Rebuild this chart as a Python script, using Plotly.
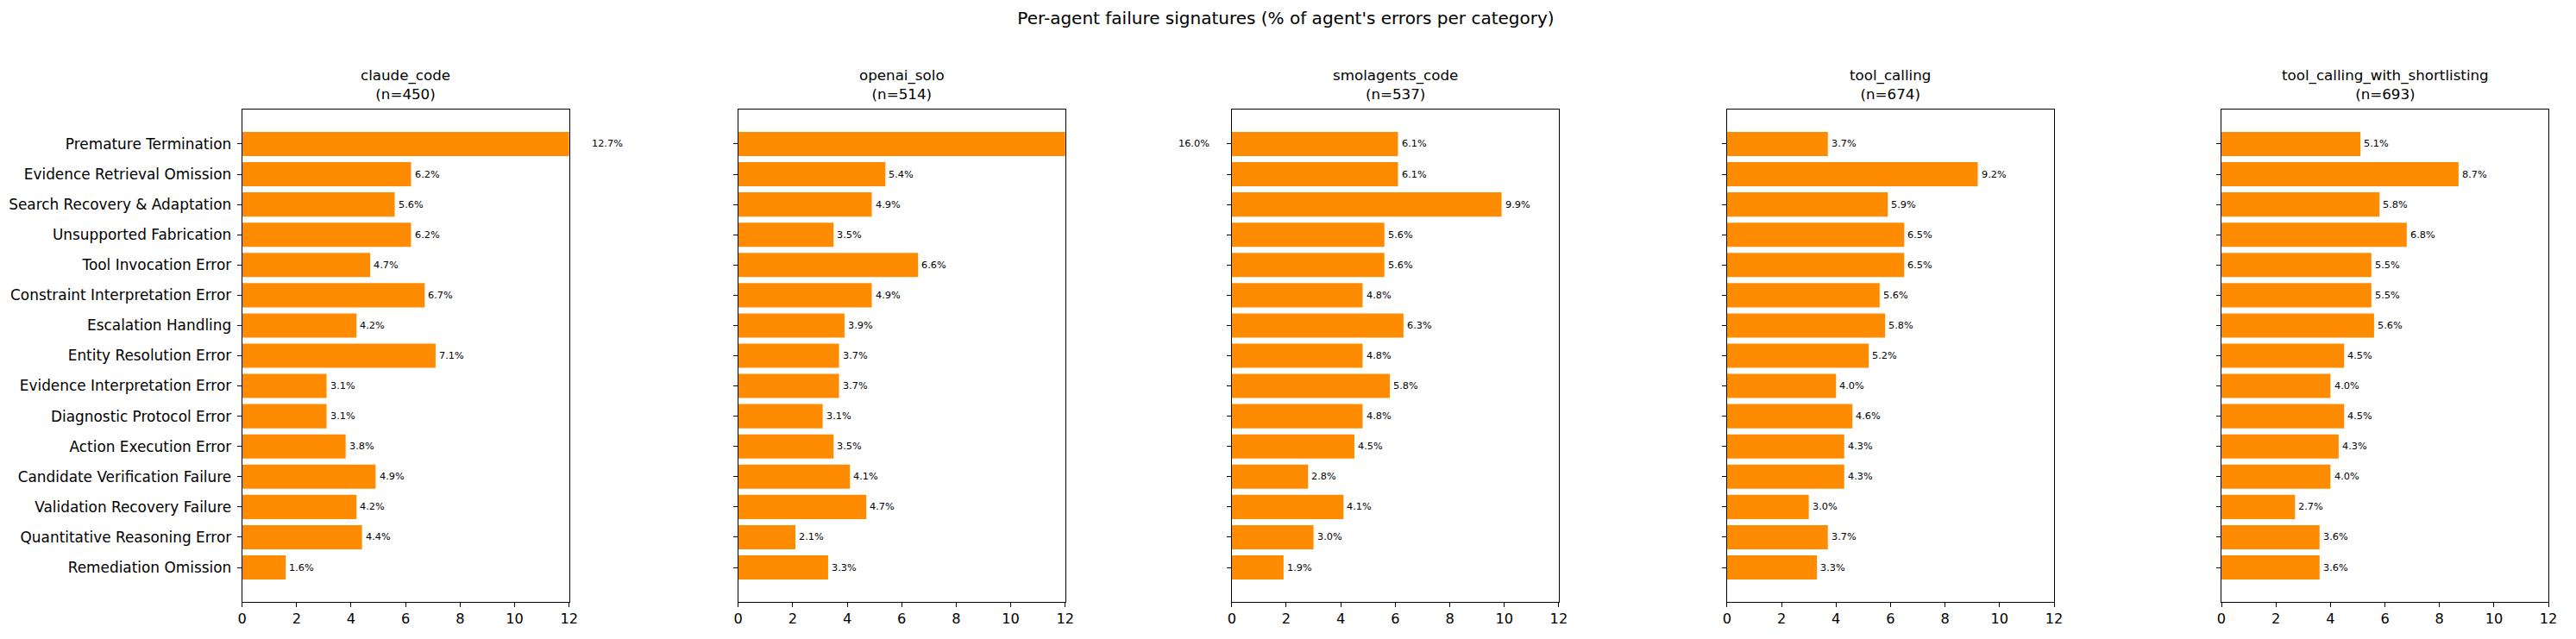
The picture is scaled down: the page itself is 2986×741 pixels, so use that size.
import plotly.graph_objects as go

# ---------------- data ----------------
categories = [
    "Premature Termination",
    "Evidence Retrieval Omission",
    "Search Recovery & Adaptation",
    "Unsupported Fabrication",
    "Tool Invocation Error",
    "Constraint Interpretation Error",
    "Escalation Handling",
    "Entity Resolution Error",
    "Evidence Interpretation Error",
    "Diagnostic Protocol Error",
    "Action Execution Error",
    "Candidate Verification Failure",
    "Validation Recovery Failure",
    "Quantitative Reasoning Error",
    "Remediation Omission",
]

agents = ["claude_code", "openai_solo", "smolagents_code", "tool_calling",
          "tool_calling_with_shortlisting"]
agent_counts = [450, 514, 537, 674, 693]

claude_code = [12.7, 6.2, 5.6, 6.2, 4.7, 6.7, 4.2, 7.1, 3.1, 3.1, 3.8, 4.9, 4.2, 4.4, 1.6]
openai_solo = [16.0, 5.4, 4.9, 3.5, 6.6, 4.9, 3.9, 3.7, 3.7, 3.1, 3.5, 4.1, 4.7, 2.1, 3.3]
smolagents_code = [6.1, 6.1, 9.9, 5.6, 5.6, 4.8, 6.3, 4.8, 5.8, 4.8, 4.5, 2.8, 4.1, 3.0, 1.9]
tool_calling = [3.7, 9.2, 5.9, 6.5, 6.5, 5.6, 5.8, 5.2, 4.0, 4.6, 4.3, 4.3, 3.0, 3.7, 3.3]
tool_calling_with_shortlisting = [5.1, 8.7, 5.8, 6.8, 5.5, 5.5, 5.6, 4.5, 4.0, 4.5, 4.3, 4.0, 2.7, 3.6, 3.6]

x_tick_values = [0, 2, 4, 6, 8, 10, 12]
x_max = 12

suptitle = "Per-agent failure signatures (% of agent's errors per category)"

# ---------------- layout geometry ----------------
W, H = 2986, 741
ax_left_px = [277, 855, 1430, 2007, 2583]
ax_w_px = 381
ax_top_px = 127
ax_bot_px = 698
y_dom = [1 - ax_bot_px / H, 1 - ax_top_px / H]
px_per_unit = ax_w_px / x_max

BAR_COLOR = "#FF8C00"
FONT = "DejaVu Sans"

series = [claude_code, openai_solo, smolagents_code, tool_calling,
          tool_calling_with_shortlisting]

fig = go.Figure()
layout_axes = {}
annotations = []

for i, (agent, n, vals) in enumerate(zip(agents, agent_counts, series)):
    k = i + 1
    xa = "x" if k == 1 else f"x{k}"
    ya = "y" if k == 1 else f"y{k}"
    fig.add_trace(go.Bar(
        x=vals, y=categories, orientation="h", width=0.8,
        marker=dict(color=BAR_COLOR, line=dict(width=0)),
        xaxis=xa, yaxis=ya, showlegend=False, hoverinfo="skip",
    ))
    # value labels; ones beyond the axis range are anchored at the axis edge
    # and shifted outward so they are still drawn (like matplotlib)
    for cat, v in zip(categories, vals):
        lx = v + 0.1
        ax_x = min(lx, x_max)
        annotations.append(dict(
            text=f"{v:.1f}%", x=ax_x, y=cat, xref=xa, yref=ya,
            xshift=(lx - ax_x) * px_per_unit,
            xanchor="left", yanchor="middle", showarrow=False,
            borderpad=0,
            font=dict(size=11.3, color="black", family=FONT),
        ))
    x0 = ax_left_px[i] / W
    x1 = (ax_left_px[i] + ax_w_px) / W
    layout_axes[f"xaxis{k}"] = dict(
        domain=[x0, x1], range=[0, x_max], tickvals=x_tick_values,
        ticks="outside", ticklen=5, tickwidth=1, tickcolor="black",
        showline=True, linecolor="black", linewidth=1, mirror=True,
        showgrid=False, zeroline=False, anchor=ya,
        tickfont=dict(size=16.2, color="black", family=FONT),
    )
    layout_axes[f"yaxis{k}"] = dict(
        domain=y_dom, range=[15.14, -1.14], type="category",
        categoryorder="array", categoryarray=categories,
        ticks="outside", ticklen=5, tickwidth=1, tickcolor="black",
        showticklabels=(k == 1), ticklabelstandoff=3,
        showline=True, linecolor="black", linewidth=1, mirror=True,
        showgrid=False, zeroline=False, anchor=xa,
        tickfont=dict(size=16.9, color="black", family=FONT),
    )
    annotations.append(dict(
        text=f"{agent}<br>(n={n})", x=(x0 + x1) / 2, y=y_dom[1] + 6 / H,
        xref="paper", yref="paper", xanchor="center", yanchor="bottom",
        showarrow=False, font=dict(size=16.7, color="black", family=FONT),
    ))

fig.update_layout(
    width=W, height=H,
    margin=dict(l=0, r=0, t=0, b=0),
    paper_bgcolor="white", plot_bgcolor="white",
    title=dict(text=suptitle, x=0.5, xanchor="center", xref="paper",
               y=1 - 21 / H, yanchor="middle", yref="container",
               font=dict(size=20, color="black", family=FONT)),
    annotations=annotations,
    font=dict(family=FONT, color="black"),
    **layout_axes,
)

fig.write_html("out.html")
